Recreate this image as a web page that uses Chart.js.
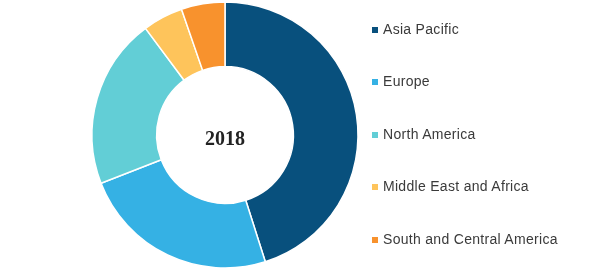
<!DOCTYPE html>
<html>
<head>
<meta charset="utf-8">
<script src="https://cdn.jsdelivr.net/npm/chart.js@4"></script>
<style>
  html, body { margin: 0; padding: 0; background: #fff; }
  #wrap { position: relative; width: 600px; height: 280px; }
  #legend { position: absolute; left: 372px; top: 0; margin: 0; padding: 0; list-style: none;
    font-family: 'Liberation Sans', Arial, sans-serif; font-size: 14px; color: #3a3a3a; letter-spacing: 0.3px; }
  #legend li { position: absolute; left: 0; white-space: nowrap; height: 16px; line-height: 16px; }
  #legend span { display: inline-block; width: 6px; height: 6px; margin-right: 5px; vertical-align: 1px; }
</style>
</head>
<body>
<div id="wrap">
  <canvas id="share-chart" width="600" height="280"></canvas>
  <ul id="legend"></ul>
</div>
<script>
// market share by region, 2018 (%)
const regions = ['Asia Pacific', 'Europe', 'North America', 'Middle East and Africa', 'South and Central America'];
const shares = [45.1, 24.0, 20.7, 4.9, 5.3];
const colors = ['#08507d', '#35b1e4', '#62ced6', '#fec45b', '#f8922d'];
const centerLabel = '2018';

const centerText = {
  id: 'centerText',
  afterDraw(chart) {
    const { ctx } = chart;
    const arc = chart.getDatasetMeta(0).data[0];
    ctx.save();
    ctx.font = 'bold 20px "Liberation Serif", serif';
    ctx.fillStyle = '#222';
    ctx.textAlign = 'center';
    ctx.textBaseline = 'middle';
    ctx.fillText(centerLabel, arc.x, arc.y + 5);
    ctx.restore();
  }
};

new Chart(document.getElementById('share-chart'), {
  type: 'doughnut',
  data: {
    labels: regions,
    datasets: [{
      data: shares,
      backgroundColor: colors,
      borderColor: '#fff',
      borderWidth: 1.5
    }]
  },
  options: {
    responsive: false,
    animation: false,
    radius: 133,
    cutout: 68,
    layout: { padding: { left: 92, right: 242, top: 2, bottom: 12 } },
    plugins: {
      legend: { display: false },
      tooltip: { enabled: false }
    }
  },
  plugins: [centerText]
});

// legend on the right
const rowY = [21, 73, 126, 178, 231];
const legend = document.getElementById('legend');
regions.forEach((name, i) => {
  const li = document.createElement('li');
  li.style.top = rowY[i] + 'px';
  li.innerHTML = '<span style="background:' + colors[i] + '"></span>' + name;
  legend.appendChild(li);
});
</script>
</body>
</html>
